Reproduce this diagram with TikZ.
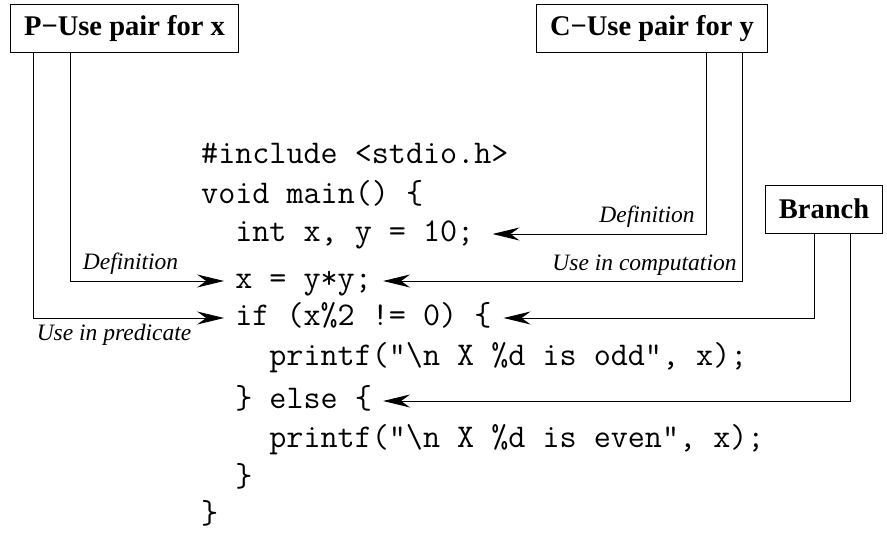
\documentclass[tikz,border=0pt]{standalone}
\usepackage{fontspec}
\setmainfont{Liberation Serif}
\usetikzlibrary{arrows.meta}
\begin{document}
\begin{tikzpicture}[x=1pt,y=-1pt,
  boxlbl/.style={draw,line width=1pt,font=\fontsize{28.5}{30}\selectfont\bfseries,minimum height=48pt,inner xsep=13.5pt,inner ysep=0pt},
  code/.style={anchor=west,inner sep=0pt,font=\fontsize{33.15}{35}\selectfont\ttfamily,text height=20pt,text depth=6pt},
  lbl/.style={anchor=base,inner sep=0pt,font=\fontsize{23.5}{25}\selectfont\itshape},
  conn/.style={line width=1pt,-{Stealth[length=27pt,width=13pt,inset=9pt]}}]
\useasboundingbox (0,0) rectangle (887,535);

% boxes
\node[boxlbl] (P) at (124.5,28.5) {P−Use pair for x};
\node[boxlbl] (C) at (652,28.5) {C−Use pair for y};
\node[boxlbl] (B) at (824,209) {Branch};

% code
\node[code] (l1) at (201,157) {\#include <stdio.h>};
\node[code] (l2) at (201,196) {void main() \{};
\node[code] (l3) at (235.1,234) {int x, y = 10;};
\node[code] (l4) at (235.1,281) {x = y*y;};
\node[code] (l5) at (235.1,318) {if (x\%2 != 0) \{};
\node[code] (l6) at (269.2,358) {printf("\textbackslash n X \%d is odd", x);};
\node[code] (l7) at (235.1,401) {\} else \{};
\node[code] (l8) at (269.2,440) {printf("\textbackslash n X \%d is even", x);};
\node[code] (l9) at (235.1,479) {\}};
\node[code] (l10) at (201,516) {\}};

% labels
\node[lbl] (d1) at (130.5,269) {Definition};
\node[lbl] (d2) at (114,340) {Use in predicate};
\node[lbl] (d3) at (647,222) {Definition};
\node[lbl] (d4) at (644.5,270) {Use in computation};

% connectors
\draw[conn] ([xshift=-54.5pt]P.south) |- ([xshift=-11pt]l4.west);
\draw[conn] ([xshift=-91.5pt]P.south) |- ([xshift=-11pt]l5.west);
\draw[conn] ([xshift=54pt]C.south) |- ([xshift=18pt]l3.east);
\draw[conn] ([xshift=90pt]C.south) |- ([xshift=11pt]l4.east);
\draw[conn] ([xshift=-10pt]B.south) |- ([xshift=12pt]l5.east);
\draw[conn] ([xshift=26pt]B.south) |- ([xshift=11pt]l7.east);
\end{tikzpicture}
\end{document}
